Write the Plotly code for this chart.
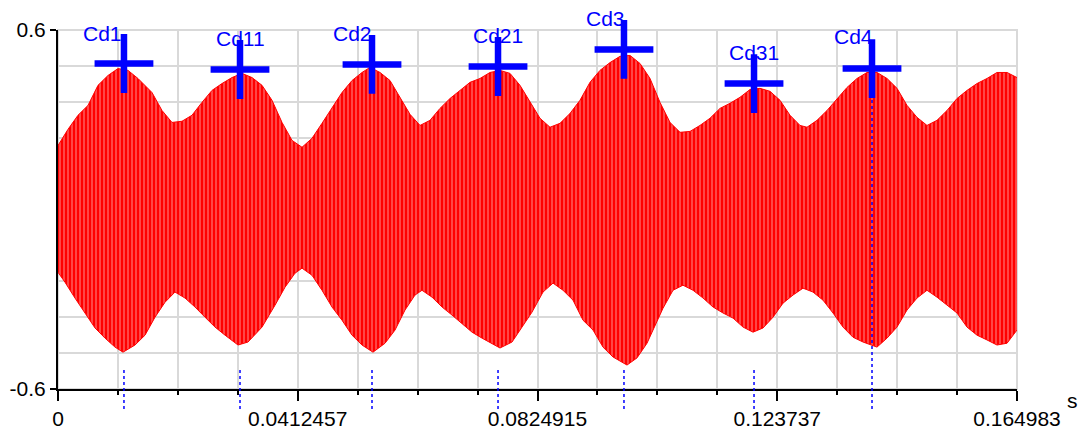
import plotly.graph_objects as go

# ---- data ----
upper_t = [0.0, 0.00172, 0.00344, 0.00516, 0.00688, 0.00860, 0.01032, 0.01204, 0.01376, 0.01617,
           0.01789, 0.01961, 0.02133, 0.02305, 0.02477, 0.02649, 0.02821, 0.02993, 0.03166, 0.03338,
           0.03510, 0.03682, 0.03854, 0.04026, 0.04198, 0.04370, 0.04542, 0.04714, 0.04886, 0.05058,
           0.05230, 0.05368, 0.05540, 0.05712, 0.05884, 0.06056, 0.06228, 0.06400, 0.06572, 0.06744,
           0.06916, 0.07088, 0.07260, 0.07432, 0.07604, 0.07776, 0.07948, 0.08120, 0.08292, 0.08464,
           0.08636, 0.08808, 0.08980, 0.09152, 0.09324, 0.09496, 0.09669, 0.09841, 0.10013, 0.10185,
           0.10357, 0.10529, 0.10701, 0.10873, 0.11045, 0.11217, 0.11389, 0.11561, 0.11733, 0.11905,
           0.12077, 0.12249, 0.12421, 0.12593, 0.12765, 0.12886, 0.13058, 0.13230, 0.13402, 0.13574,
           0.13746, 0.13918, 0.14090, 0.14262, 0.14434, 0.14606, 0.14778, 0.14950, 0.15122, 0.15294,
           0.15466, 0.15638, 0.15810, 0.15982, 0.16154, 0.16327, 0.16498]
upper_v = [0.214, 0.268, 0.315, 0.348, 0.415, 0.448, 0.471, 0.465, 0.438, 0.391,
           0.331, 0.291, 0.295, 0.315, 0.358, 0.398, 0.421, 0.441, 0.455, 0.441,
           0.415, 0.365, 0.291, 0.231, 0.208, 0.238, 0.288, 0.341, 0.391, 0.431,
           0.458, 0.475, 0.458, 0.431, 0.376, 0.318, 0.281, 0.298, 0.338, 0.371,
           0.398, 0.425, 0.438, 0.458, 0.465, 0.455, 0.415, 0.358, 0.305, 0.275,
           0.288, 0.321, 0.365, 0.425, 0.465, 0.491, 0.512, 0.515, 0.488, 0.438,
           0.358, 0.291, 0.258, 0.261, 0.281, 0.305, 0.338, 0.355, 0.375, 0.401,
           0.405, 0.395, 0.365, 0.315, 0.281, 0.275, 0.298, 0.331, 0.371, 0.408,
           0.438, 0.458, 0.458, 0.438, 0.405, 0.348, 0.308, 0.281, 0.298, 0.331,
           0.371, 0.398, 0.421, 0.438, 0.458, 0.458, 0.441]

lower_t = [0.0, 0.00120, 0.00292, 0.00465, 0.00637, 0.00809, 0.00981, 0.01118, 0.01325, 0.01497,
           0.01669, 0.01841, 0.02013, 0.02185, 0.02357, 0.02529, 0.02701, 0.02873, 0.03097, 0.03269,
           0.03510, 0.03733, 0.03905, 0.04077, 0.04198, 0.04370, 0.04542, 0.04714, 0.04886, 0.05058,
           0.05230, 0.05419, 0.05626, 0.05798, 0.05970, 0.06142, 0.06262, 0.06435, 0.06607, 0.06779,
           0.06951, 0.07123, 0.07295, 0.07467, 0.07604, 0.07811, 0.07983, 0.08155, 0.08344, 0.08516,
           0.08688, 0.08860, 0.09032, 0.09204, 0.09376, 0.09548, 0.09789, 0.09961, 0.10133, 0.10305,
           0.10408, 0.10580, 0.10752, 0.10925, 0.11097, 0.11269, 0.11441, 0.11613, 0.11785, 0.11957,
           0.12129, 0.12301, 0.12473, 0.12645, 0.12817, 0.12989, 0.13161, 0.13333, 0.13505, 0.13677,
           0.13849, 0.14090, 0.14262, 0.14434, 0.14606, 0.14778, 0.14950, 0.15122, 0.15294, 0.15466,
           0.15638, 0.15810, 0.15982, 0.16154, 0.16327, 0.16430, 0.16498]
lower_v = [-0.210, -0.243, -0.296, -0.346, -0.396, -0.430, -0.460, -0.477, -0.453, -0.420,
           -0.360, -0.310, -0.276, -0.296, -0.326, -0.360, -0.393, -0.420, -0.453, -0.443,
           -0.393, -0.320, -0.260, -0.213, -0.196, -0.220, -0.270, -0.326, -0.370, -0.420,
           -0.453, -0.477, -0.447, -0.403, -0.336, -0.286, -0.270, -0.293, -0.326, -0.353,
           -0.380, -0.410, -0.430, -0.447, -0.463, -0.443, -0.393, -0.343, -0.276, -0.246,
           -0.270, -0.303, -0.370, -0.403, -0.460, -0.493, -0.520, -0.496, -0.447, -0.370,
           -0.330, -0.270, -0.253, -0.270, -0.296, -0.326, -0.346, -0.363, -0.393, -0.410,
           -0.396, -0.360, -0.313, -0.286, -0.263, -0.276, -0.303, -0.346, -0.393, -0.427,
           -0.443, -0.460, -0.430, -0.393, -0.336, -0.296, -0.270, -0.293, -0.320, -0.346,
           -0.393, -0.420, -0.436, -0.453, -0.447, -0.420, -0.403]

cursor_names = ["Cd1", "Cd11", "Cd2", "Cd21", "Cd3", "Cd31", "Cd4"]
cursor_t = [0.01135, 0.03131, 0.05402, 0.07570, 0.09737, 0.11974, 0.14004]
cursor_v = [0.488, 0.468, 0.485, 0.478, 0.535, 0.421, 0.471]
label_t = [0.00774, 0.03131, 0.05058, 0.07570, 0.09411, 0.11974, 0.13677]
label_v = [0.588, 0.570, 0.587, 0.582, 0.638, 0.525, 0.577]
selected_cursor = "Cd4"

x_tickvals = [0, 0.0412457, 0.0824915, 0.123737, 0.164983]
x_ticktext = ["0", "0.0412457", "0.0824915", "0.123737", "0.164983"]
y_tickvals = [-0.6, 0.6]
y_ticktext = ["-0.6", "0.6"]
x_max = 0.164983
y_min, y_max = -0.6, 0.6

# ---- styling ----
FONT = "Liberation Sans, Arial, sans-serif"
GRID = "#d9d9d9"
BLUE = "#0000ff"
W, H = 1079, 433
ML, MR, MT, MB = 58, 62, 30, 44
plot_h = H - MT - MB
plot_w = W - ML - MR


def paper_y(v):
    return (v - y_min) / (y_max - y_min)


fig = go.Figure()

# signal band: upper and lower envelopes, filled with a red stroke texture
fig.add_trace(go.Scatter(x=upper_t, y=upper_v, mode="lines",
                         line=dict(color="#ff0000", width=1), hoverinfo="skip",
                         showlegend=False))
fig.add_trace(go.Scatter(x=lower_t, y=lower_v, mode="lines",
                         line=dict(color="#ff0000", width=1), hoverinfo="skip",
                         fill="tonexty",
                         fillpattern=dict(shape="|", bgcolor="#ff0000", fgcolor="#ffeaea",
                                          size=4, solidity=0.3),
                         showlegend=False))

# cursor crosses
fig.add_trace(go.Scatter(x=cursor_t, y=cursor_v, mode="markers",
                         marker=dict(symbol="cross-thin", size=42, color=BLUE,
                                     line=dict(color=BLUE, width=6.5)),
                         cliponaxis=False, hoverinfo="skip", showlegend=False))

# cursor labels
for name, lt, lv in zip(cursor_names, label_t, label_v):
    fig.add_annotation(x=lt, y=paper_y(lv), xref="x", yref="paper", text=name,
                       showarrow=False,
                       font=dict(family=FONT, size=21, color=BLUE),
                       xanchor="center", yanchor="middle")

# dotted cursor marks below the plot
short_top = paper_y(y_min) + 21 / plot_h
short_bot = paper_y(y_min) - 20 / plot_h
for name, ct, cv in zip(cursor_names, cursor_t, cursor_v):
    top = short_top
    if name == selected_cursor:
        top = paper_y(cv) - 21 / plot_h
    fig.add_shape(type="line", xref="x", yref="paper", x0=ct, x1=ct, y0=short_bot, y1=top,
                  line=dict(color=BLUE, width=1.5, dash="dot"), layer="above")

# grey frame for top/right edges
fig.add_shape(type="rect", xref="paper", yref="paper", x0=0, x1=1, y0=0, y1=1,
              line=dict(color=GRID, width=2), layer="below")

# unit label
fig.add_annotation(x=1 + 55 / plot_w, y=-11 / plot_h, xref="paper", yref="paper",
                   text="s", showarrow=False, font=dict(family=FONT, size=21, color="#000"),
                   xanchor="center", yanchor="middle")

fig.update_layout(
    width=W, height=H,
    margin=dict(l=ML, r=MR, t=MT, b=MB, pad=0, autoexpand=False),
    paper_bgcolor="white", plot_bgcolor="white",
    font=dict(family=FONT, size=21, color="#000"),
    showlegend=False,
    xaxis=dict(range=[0, x_max], tickvals=x_tickvals, ticktext=x_ticktext,
               ticks="outside", ticklen=10, tickwidth=2, tickcolor="#000",
               showline=True, linecolor="#000", linewidth=2, automargin=False,
               showgrid=True, gridcolor=GRID, gridwidth=2, zeroline=False,
               minor=dict(tick0=0, dtick=x_max / 16, ticks="outside", ticklen=4,
                          tickwidth=2, tickcolor="#000", showgrid=True,
                          gridcolor=GRID, gridwidth=2),
               fixedrange=True),
    yaxis=dict(range=[y_min, y_max], tickvals=y_tickvals, ticktext=y_ticktext,
               ticks="outside", ticklen=6, tickwidth=2, tickcolor="#000",
               showline=True, linecolor="#000", linewidth=2, automargin=False,
               showgrid=True, gridcolor=GRID, gridwidth=2, zeroline=False,
               minor=dict(tick0=y_min, dtick=0.12, ticks="", showgrid=True,
                          gridcolor=GRID, gridwidth=2),
               fixedrange=True),
)

fig.write_html("out.html", config={"displayModeBar": False},
               post_script="document.body.style.margin='0px';"
                           "document.body.style.overflow='hidden';")
